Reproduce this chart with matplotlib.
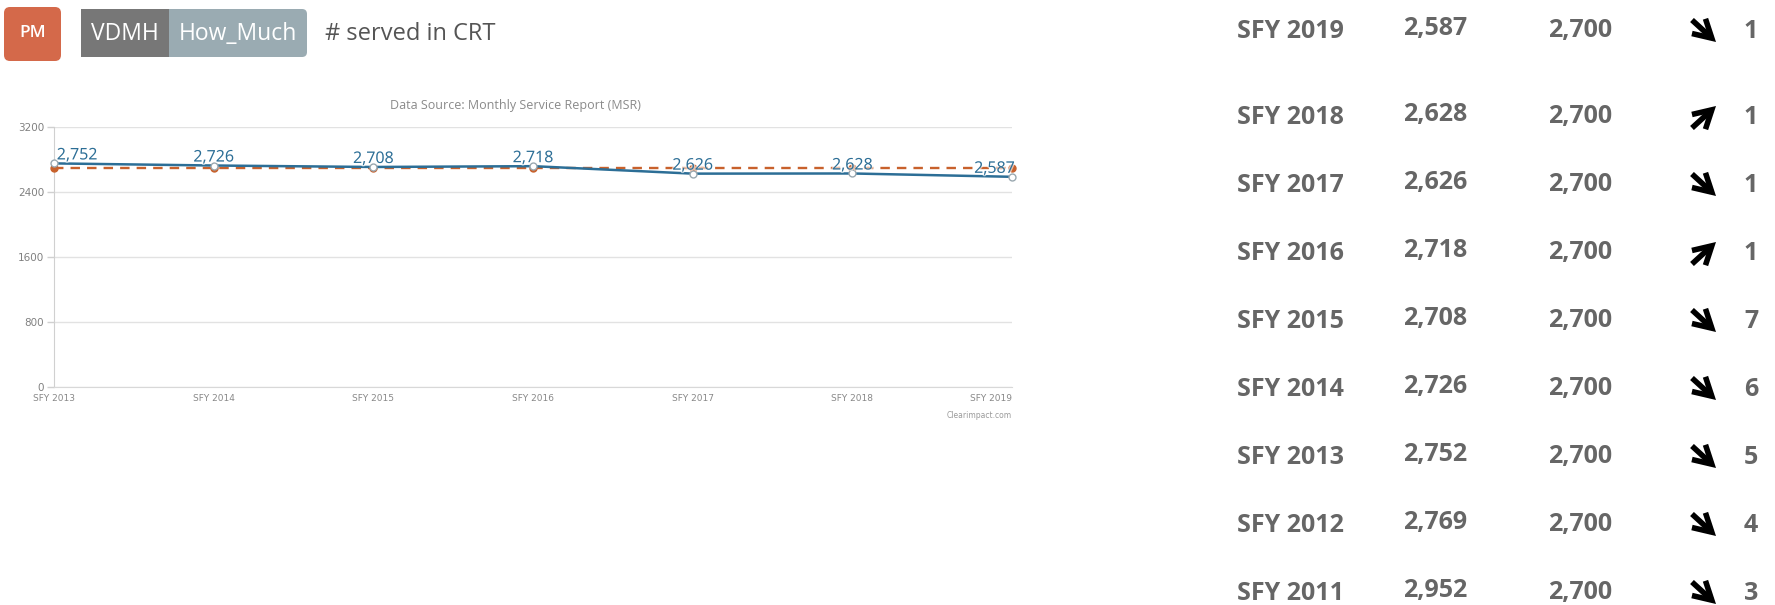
import matplotlib
matplotlib.use('Agg')
import matplotlib.pyplot as plt
from matplotlib.patches import FancyBboxPatch, Rectangle
import matplotlib.patheffects as pe

# =============================================================================
# Data
# =============================================================================
years = ['SFY 2013', 'SFY 2014', 'SFY 2015', 'SFY 2016', 'SFY 2017', 'SFY 2018', 'SFY 2019']
actual = [2752, 2726, 2708, 2718, 2626, 2628, 2587]
target = [2700, 2700, 2700, 2700, 2700, 2700, 2700]
y_ticks = [0, 800, 1600, 2400, 3200]

table_years = ['SFY 2019', 'SFY 2018', 'SFY 2017', 'SFY 2016', 'SFY 2015',
               'SFY 2014', 'SFY 2013', 'SFY 2012', 'SFY 2011']
table_actual = [2587, 2628, 2626, 2718, 2708, 2726, 2752, 2769, 2952]
table_target = [2700, 2700, 2700, 2700, 2700, 2700, 2700, 2700, 2700]
table_trend = ['down', 'up', 'down', 'up', 'down', 'down', 'down', 'down', 'down']
table_count = [1, 1, 1, 1, 7, 6, 5, 4, 3]

# =============================================================================
# Figure
# =============================================================================
W, H = 1775, 605
fig = plt.figure(figsize=(W / 100, H / 100), dpi=100, facecolor='w')

blue = '#2c6e96'
orange = '#c8612c'
grey_txt = '#666666'

# overlay in pixel coords
ov = fig.add_axes([0, 0, 1, 1])
ov.set_xlim(0, W)
ov.set_ylim(H, 0)
ov.axis('off')

# header badges
ov.add_patch(FancyBboxPatch((4, 7), 57, 54, boxstyle='round,pad=0,rounding_size=6',
                            fc='#d4694a', ec='none'))
ov.text(32.5, 33, 'PM', color='w', fontsize=12.5, family='Open Sans',
        weight='semibold', ha='center', va='center')
ov.add_patch(FancyBboxPatch((81, 9), 226, 48, boxstyle='round,pad=0,rounding_size=5',
                            fc='#9aabb2', ec='none'))
ov.add_patch(Rectangle((81, 9), 88, 48, fc='#777777', ec='none'))
ov.text(125, 34, 'VDMH', color='w', fontsize=16.5, family='Open Sans',
        ha='center', va='center')
ov.text(238, 34, 'How_Much', color='w', fontsize=16.5, family='Open Sans',
        ha='center', va='center')
ov.text(325, 34, '# served in CRT', color='#555555', fontsize=17,
        family='Open Sans', ha='left', va='center')

# chart texts
ov.text(515, 105, 'Data Source: Monthly Service Report (MSR)', color='#8a8a8a',
        fontsize=9, family='Open Sans', ha='center', va='center')
ov.text(1012, 416, 'Clearimpact.com', color='#9a9a9a', fontsize=5.5,
        family='DejaVu Sans', ha='right', va='center')

# =============================================================================
# Line chart
# =============================================================================
left, right, top, bottom = 54, 1012, 127, 387
ax = fig.add_axes([left / W, 1 - bottom / H, (right - left) / W, (bottom - top) / H])
x = list(range(len(years)))
ax.set_xlim(0, len(years) - 1)
ax.set_ylim(0, 3200)
ax.set_yticks(y_ticks)
ax.set_xticks(x)
ax.set_xticklabels(years)
ax.grid(axis='y', color='#e2e2e2', lw=1)
ax.set_axisbelow(True)
for s in ['top', 'right']:
    ax.spines[s].set_visible(False)
ax.spines['left'].set_color('#d0d0d0')
ax.spines['bottom'].set_color('#d8d8d8')
ax.tick_params(axis='y', colors='#d0d0d0', labelcolor='#808080', labelsize=7.5,
               length=5, width=1, pad=2)
ax.tick_params(axis='x', length=0, labelcolor='#888888', labelsize=6.5, pad=5)
xlabs = ax.get_xticklabels()
for lab in xlabs:
    lab.set_family('Liberation Sans Narrow')
xlabs[-1].set_ha('right')

ax.plot(x, target, color=orange, lw=1.7, ls=(0, (4, 3)), marker='o', ms=5,
        mfc=orange, mec=orange, clip_on=False, zorder=3)
ax.plot(x, actual, color=blue, lw=1.8, marker='o', ms=5, mfc='white',
        mec='#9aa8b0', mew=1, clip_on=False, zorder=4)

for i, v in enumerate(actual):
    ha = 'center'
    dx = 0
    if i == 0:
        ha, dx = 'left', 2
    elif i == len(actual) - 1:
        ha, dx = 'right', 2
    ax.annotate(f'{v:,}', (i, v), xytext=(dx, 0), textcoords='offset points',
                ha=ha, va='bottom', color=blue, fontsize=11.5, family='Open Sans',
                zorder=5,
                path_effects=[pe.withStroke(linewidth=2, foreground='white', alpha=0.6)])

# =============================================================================
# Table
# =============================================================================
row_y = [31] + [117 + 68 * i for i in range(len(table_years) - 1)]
for i, yy in enumerate(row_y):
    kw = dict(color=grey_txt, fontsize=18, family='Open Sans', weight='bold', va='center')
    ov.text(1237, yy, table_years[i], ha='left', **kw)
    ov.text(1435, yy - 3, f'{table_actual[i]:,}', ha='center', **kw)
    ov.text(1580, yy, f'{table_target[i]:,}', ha='center', **kw)
    ov.text(1751, yy, str(table_count[i]), ha='center', **kw)
    if table_trend[i] == 'down':
        p0, p1 = (1692, yy - 11), (1716, yy + 11)
    else:
        p0, p1 = (1692, yy + 11), (1716, yy - 11)
    ov.annotate('', xy=p1, xytext=p0,
                arrowprops=dict(arrowstyle='->,head_length=0.8,head_width=0.45',
                                lw=4, color='black', mutation_scale=16,
                                shrinkA=0, shrinkB=0, joinstyle='miter',
                                capstyle='butt'))

fig.savefig('out.png', dpi=100, facecolor='w')
